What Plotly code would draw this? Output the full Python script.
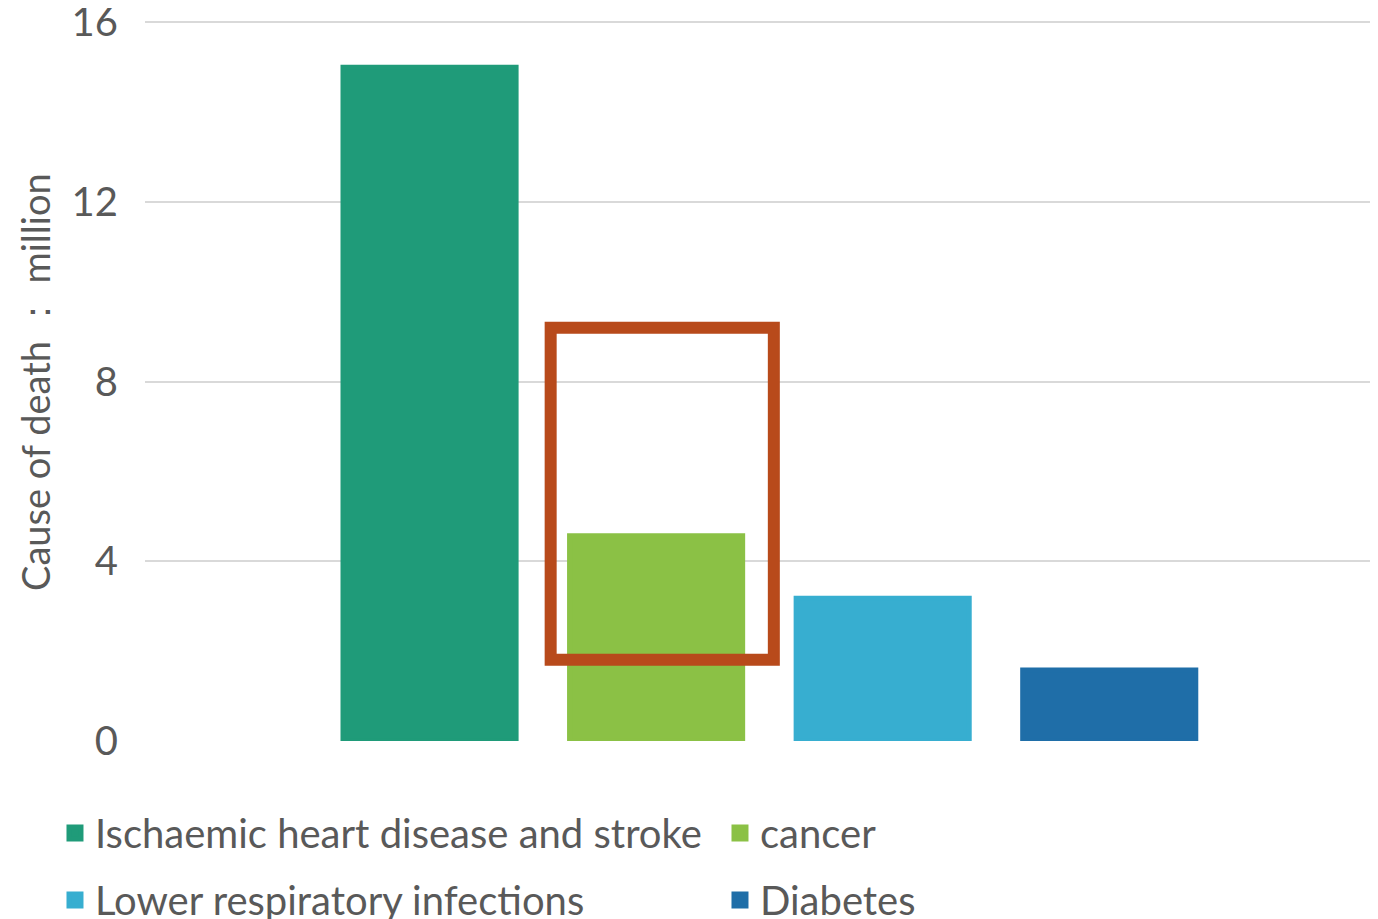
import plotly.graph_objects as go

categories = ["Ischaemic heart disease and stroke", "cancer",
              "Lower respiratory infections", "Diabetes"]
values = [15.0, 4.57, 3.18, 1.58]
colors = ["#1F9B79", "#8BC145", "#37AED0", "#1F6EA8"]
legend_column = ["legend", "legend2", "legend", "legend2"]
y_ticks = [0, 4, 8, 12, 16]
y_title = "Cause of death ： million"

FONT = "Lato"
GREY = "#595959"

fig = go.Figure()
for name, v, c, lg in zip(categories, values, colors, legend_column):
    fig.add_trace(go.Bar(x=["deaths"], y=[v], name=name, marker_color=c,
                         marker_line=dict(width=5, color=c),
                         legend=lg, legendgroup=name))

legend_common = dict(orientation="v", xref="container", yref="container",
                     y=0.1302, xanchor="left", yanchor="top",
                     font=dict(size=40, color=GREY), traceorder="grouped",
                     tracegroupgap=12, bgcolor="rgba(0,0,0,0)")

fig.update_layout(
    width=1370, height=911,
    paper_bgcolor="white", plot_bgcolor="white",
    margin=dict(l=137, r=0, t=12, b=178, autoexpand=False),
    barmode="group", bargap=0.265, bargroupgap=0.236,
    font=dict(family=FONT, color=GREY, size=40),
    showlegend=True,
    legend=dict(x=0.0343, **legend_common),
    legend2=dict(x=0.5197, **legend_common),
    xaxis=dict(showticklabels=False, showgrid=False, zeroline=False,
               showline=False, range=[-0.5064, 0.4936]),
    yaxis=dict(range=[0, 16.05], tickvals=y_ticks, showgrid=True,
               gridcolor="#D9D9D9", gridwidth=1.5, zeroline=False,
               showline=False, ticklabelstandoff=26,
               ticklabeloverflow="allow",
               tickfont=dict(size=40, color=GREY)),
)

fig.add_annotation(text=y_title, xref="paper", yref="paper",
                   x=-0.0892, y=0.498, textangle=-90, showarrow=False,
                   xanchor="center", yanchor="middle",
                   font=dict(size=38, color=GREY, family=FONT))

fig.add_shape(type="rect", xref="paper", yref="y",
              x0=0.329, x1=0.510, y0=1.81, y1=9.2,
              line=dict(color="#B84A1B", width=12), fillcolor="rgba(0,0,0,0)")

fig.write_html("out.html")
